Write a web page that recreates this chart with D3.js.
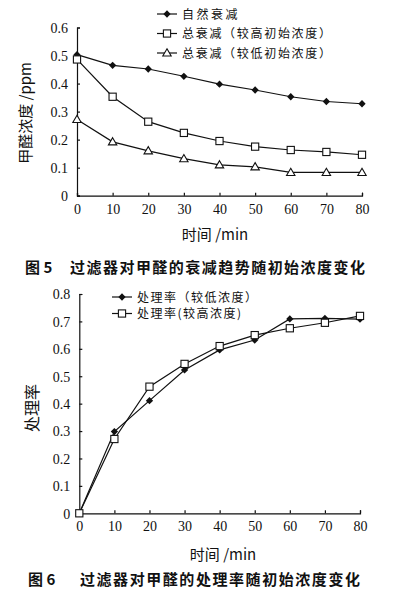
<!DOCTYPE html>
<html lang="zh">
<head>
<meta charset="UTF-8">
<title>图5 图6</title>
<script src="https://d3js.org/d3.v7.min.js"></script>
<style>
  body { margin: 0; background: #fff; }
  svg text { fill: #111; }
  .zh { font-family: "Noto Sans CJK SC", sans-serif; }
</style>
</head>
<body>
<svg id="page" width="400" height="594"></svg>
<script>
// chart 1 data (ppm)
const times = [0, 10, 20, 30, 40, 50, 60, 70, 80];
const natural = [0.503, 0.465, 0.452, 0.426, 0.398, 0.377, 0.353, 0.336, 0.328];
const totalHigh = [0.486, 0.353, 0.264, 0.224, 0.195, 0.175, 0.163, 0.156, 0.146];
const totalLow = [0.272, 0.192, 0.160, 0.132, 0.110, 0.103, 0.083, 0.083, 0.083];
const yTicks1 = [0, 0.1, 0.2, 0.3, 0.4, 0.5, 0.6];
// chart 2 data (rate)
const rateLow = [0, 0.298, 0.411, 0.523, 0.596, 0.632, 0.709, 0.711, 0.708];
const rateHigh = [0, 0.271, 0.462, 0.545, 0.610, 0.650, 0.675, 0.695, 0.720];
const yTicks2 = [0, 0.1, 0.2, 0.3, 0.4, 0.5, 0.6, 0.7, 0.8];

const svg = d3.select("#page");

function marker(g, type, x, y) {
    if (type === "diamond") {
        g.append("path")
            .attr("d", d3.symbol(d3.symbolDiamond2, 34)())
            .attr("transform", `translate(${x},${y})`)
            .attr("fill", "#111");
    } else if (type === "square") {
        g.append("rect")
            .attr("x", x - 3.6).attr("y", y - 3.6)
            .attr("width", 7.2).attr("height", 7.2)
            .attr("fill", "#fff").attr("stroke", "#111").attr("stroke-width", 1.1);
    } else {
        g.append("path")
            .attr("d", `M${x},${y - 4.2}L${x + 4.2},${y + 3}L${x - 4.2},${y + 3}Z`)
            .attr("fill", "#fff").attr("stroke", "#111").attr("stroke-width", 1.1);
    }
}

function drawChart(opt) {
    const g = svg.append("g");
    const x = d3.scaleLinear().domain([0, 80]).range([opt.left, opt.right]);
    const y = d3.scaleLinear().domain([0, opt.yMax]).range([opt.bottom, opt.top]);

    // axes, ticks pointing inward
    const xAxis = g.append("g")
        .attr("transform", `translate(0,${opt.bottom})`)
        .call(d3.axisBottom(x).tickValues(times).tickSize(-3).tickPadding(8).tickFormat(d3.format("d")));
    const yAxis = g.append("g")
        .attr("transform", `translate(${opt.left},0)`)
        .call(d3.axisLeft(y).tickValues(opt.yTicks).tickSize(-3).tickPadding(9).tickFormat(d => d === 0 ? "0" : d3.format(".1f")(d)));
    [xAxis, yAxis].forEach(a => {
        a.attr("font-family", "'Liberation Serif', 'DejaVu Serif', serif").attr("font-size", 14);
        a.select(".domain").attr("stroke", "#111").attr("stroke-width", 1.2);
        a.selectAll(".tick line").attr("stroke", "#111").attr("stroke-width", 1.2);
        a.selectAll("text").attr("fill", "#111");
    });
    yAxis.selectAll("text").attr("dy", "0.35em");

    const line = d3.line().x((d, i) => x(times[i])).y(d => y(d));
    opt.series.forEach(s => {
        g.append("path")
            .datum(s.values)
            .attr("d", line)
            .attr("fill", "none")
            .attr("stroke", "#111")
            .attr("stroke-width", 1.2);
        s.values.forEach((v, i) => marker(g, s.marker, x(times[i]), y(v)));
    });

    // legend
    opt.series.forEach((s, i) => {
        const ly = opt.legendY + i * opt.legendStep;
        g.append("line")
            .attr("x1", opt.legendX).attr("x2", opt.legendX + 20)
            .attr("y1", ly).attr("y2", ly)
            .attr("stroke", "#111").attr("stroke-width", 1.2);
        marker(g, s.marker, opt.legendX + 10, ly);
        g.append("text")
            .attr("class", "zh")
            .attr("x", opt.legendX + 25).attr("y", ly + 4.5)
            .style("font-size", "12px")
            .style("letter-spacing", s.spacing + "px")
            .text(s.name);
    });

    // axis titles
    g.append("text")
        .attr("class", "zh")
        .attr("x", opt.xLabelX).attr("y", opt.xLabelY)
        .attr("text-anchor", "middle")
        .style("font-size", "15px")
        .text(opt.xLabel);
    g.append("text")
        .attr("class", "zh")
        .attr("text-anchor", "middle")
        .attr("transform", `translate(${opt.yLabelX},${opt.yLabelY})rotate(-90)`)
        .style("font-size", opt.yLabelSize + "px")
        .text(opt.yLabel);

    // caption
    g.append("text")
        .attr("class", "zh")
        .attr("x", opt.capX).attr("y", opt.capY)
        .style("font-size", "15px").style("font-weight", "bold")
        .text(opt.capNo);
    g.append("text")
        .attr("class", "zh")
        .attr("x", opt.capX2).attr("y", opt.capY)
        .attr("textLength", opt.capLen)
        .style("font-size", "15px").style("font-weight", "bold")
        .text(opt.caption);
}

drawChart({
    left: 77, right: 362, top: 27.5, bottom: 195.7, yMax: 0.6, yTicks: yTicks1,
    series: [
        { name: "自然衰减", values: natural, marker: "diamond", spacing: 2.5 },
        { name: "总衰减（较高初始浓度）", values: totalHigh, marker: "square", spacing: 1.7 },
        { name: "总衰减（较低初始浓度）", values: totalLow, marker: "triangle", spacing: 1.7 }
    ],
    legendX: 157, legendY: 14, legendStep: 19.5,
    xLabel: "时间 /min", xLabelX: 215, xLabelY: 240,
    yLabel: "甲醛浓度 /ppm", yLabelX: 31, yLabelY: 113, yLabelSize: 15,
    capNo: "图 5", capX: 25, capX2: 70, capLen: 295, capY: 273,
    caption: "过滤器对甲醛的衰减趋势随初始浓度变化"
});

drawChart({
    left: 79.3, right: 360, top: 294, bottom: 513.3, yMax: 0.8, yTicks: yTicks2,
    series: [
        { name: "处理率（较低浓度）", values: rateLow, marker: "diamond", spacing: 1.5 },
        { name: "处理率(较高浓度)", values: rateHigh, marker: "square", spacing: 1.5 }
    ],
    legendX: 112, legendY: 297, legendStep: 16.5,
    xLabel: "时间 /min", xLabelX: 223, xLabelY: 560,
    yLabel: "处理率", yLabelX: 38, yLabelY: 408, yLabelSize: 16,
    capNo: "图 6", capX: 28, capX2: 80, capLen: 280, capY: 585,
    caption: "过滤器对甲醛的处理率随初始浓度变化"
});
</script>
</body>
</html>
